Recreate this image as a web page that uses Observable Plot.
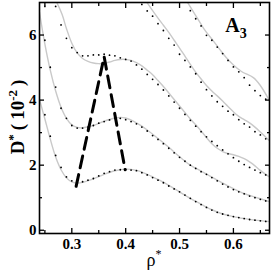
<!DOCTYPE html>
<html><head><meta charset="utf-8">
<script src="https://cdn.jsdelivr.net/npm/d3@7"></script>
<script src="https://cdn.jsdelivr.net/npm/@observablehq/plot@0.6"></script>
<style>body{margin:0;background:#fff}#chart svg{display:block}</style>
</head><body><div id="chart"></div>
<script>
// shared density grid for the dotted (simulation) series
const rhoGrid = [0.25,0.26,0.27,0.28,0.29,0.30,0.31,0.32,0.33,0.34,0.35,0.36,0.37,0.38,0.39,0.40,0.41,0.42,0.43,0.44,0.45,0.46,0.47,0.48,0.49,0.50,0.51,0.52,0.53,0.54,0.55,0.56,0.57,0.58,0.59,0.60,0.61,0.62,0.63,0.64,0.65,0.66];
const dots1 = [3.55,2.89,2.30,1.93,1.64,1.52,1.46,1.49,1.54,1.59,1.67,1.75,1.80,1.85,1.86,1.87,1.85,1.83,1.77,1.70,1.62,1.54,1.46,1.36,1.27,1.18,1.08,0.98,0.88,0.79,0.70,0.62,0.55,0.50,0.46,0.42,0.39,0.36,0.33,0.31,0.29,0.27];
const dots2 = [5.84,5.01,4.40,3.75,3.44,3.22,3.14,3.14,3.17,3.22,3.29,3.34,3.39,3.44,3.44,3.40,3.34,3.27,3.17,3.05,2.91,2.79,2.66,2.52,2.38,2.24,2.12,2.00,1.90,1.80,1.72,1.62,1.52,1.42,1.33,1.25,1.18,1.12,1.05,1.00,0.95,0.90];
const dots3 = [6.88,null,6.88,6.31,5.90,5.61,5.46,5.36,5.36,5.39,5.39,5.41,5.38,5.36,5.30,5.25,5.20,5.08,4.95,4.79,4.64,4.48,4.31,4.13,3.94,3.75,3.56,3.38,3.20,3.03,2.87,2.73,2.60,2.47,2.35,2.23,2.12,2.02,1.93,1.85,1.77,1.70];
const dots4 = [null,null,null,null,null,null,null,null,null,null,null,null,null,null,null,null,null,null,6.94,6.74,6.58,6.35,6.14,5.90,5.69,5.41,5.22,5.02,4.81,4.55,4.32,4.13,3.95,3.81,3.66,3.55,3.40,3.27,3.17,3.03,2.93,2.81];
const dots5 = [null,null,null,null,null,null,null,null,null,null,null,null,null,null,null,null,null,null,null,null,null,null,null,null,null,null,null,6.75,6.50,6.28,5.99,5.84,5.63,5.43,5.22,5.02,4.87,4.69,4.46,4.29,4.14,4.03];

// theory curves (grey solid)
const grey1Rho = [0.24,0.25,0.26,0.27,0.28,0.29,0.30,0.31,0.32,0.34,0.36,0.38,0.40,0.42,0.44,0.46,0.48,0.50,0.52,0.54,0.56,0.58,0.60,0.62,0.64,0.667];
const grey1D   = [4.02,3.42,2.80,2.25,1.86,1.61,1.49,1.45,1.47,1.58,1.72,1.83,1.88,1.84,1.72,1.56,1.38,1.18,0.98,0.80,0.63,0.50,0.42,0.36,0.31,0.27];
const grey2Rho = [0.24,0.25,0.26,0.27,0.28,0.29,0.30,0.31,0.32,0.34,0.36,0.38,0.39,0.40,0.42,0.44,0.46,0.48,0.50,0.52,0.54,0.56,0.58,0.60,0.62,0.64,0.667];
const grey2D   = [6.70,5.72,4.92,4.28,3.78,3.44,3.24,3.16,3.15,3.22,3.35,3.45,3.47,3.45,3.30,3.08,2.82,2.55,2.26,2.00,1.82,1.63,1.45,1.28,1.13,1.02,0.88];
const grey3Rho = [0.271,0.282,0.29,0.30,0.31,0.32,0.33,0.34,0.35,0.36,0.37,0.38,0.39,0.40,0.41,0.42,0.43,0.44,0.45,0.46,0.47,0.48,0.49,0.50,0.51,0.52,0.53,0.54,0.55,0.56,0.57,0.58,0.59,0.60,0.61,0.62,0.63,0.64,0.65,0.667];
const grey3D   = [7.04,6.63,6.20,5.75,5.45,5.28,5.19,5.14,5.12,5.13,5.17,5.22,5.25,5.25,5.22,5.15,5.05,4.92,4.78,4.60,4.42,4.22,4.02,3.82,3.62,3.42,3.24,3.05,2.85,2.66,2.52,2.42,2.36,2.32,2.27,2.20,2.10,1.98,1.84,1.64];
const grey4Rho = [0.438,0.45,0.46,0.47,0.48,0.49,0.50,0.51,0.52,0.53,0.54,0.55,0.56,0.57,0.58,0.59,0.60,0.61,0.62,0.63,0.64,0.65,0.667];
const grey4D   = [7.04,6.75,6.52,6.30,6.08,5.84,5.60,5.35,5.10,4.86,4.65,4.45,4.28,4.13,3.97,3.80,3.64,3.50,3.40,3.30,3.17,3.02,2.75];
const grey5Rho = [0.5135,0.53,0.545,0.5627,0.575,0.587,0.60,0.615,0.637,0.65,0.667];
const grey5D   = [7.04,6.60,6.20,5.82,5.55,5.30,5.08,4.88,4.69,4.45,3.98];

// dashed boundary
const dashRho = [0.308,0.360,0.399];
const dashD   = [1.35,5.33,1.86];

const xMajor = [0.3,0.4,0.5,0.6];
const xMinor = [0.25,0.35,0.45,0.55,0.65];
const yMajor = [0,2,4,6];
const yMinor = [1,3,5];

const dotSeries = [dots1,dots2,dots3,dots4,dots5];
const dotData = dotSeries.flatMap((arr,k)=>arr.map((d,i)=>({rho:rhoGrid[i],D:d,k})));
const greys = [[grey1Rho,grey1D],[grey2Rho,grey2D],[grey3Rho,grey3D],[grey4Rho,grey4D],[grey5Rho,grey5D]];
const greyData = greys.flatMap(([r,d],k)=>r.map((v,i)=>({rho:v,D:d[i],k})));
const dashData = dashRho.map((r,i)=>({rho:r,D:dashD[i]}));

const chart = Plot.plot({
  width: 273, height: 275,
  marginLeft: 39, marginRight: 4, marginTop: 2, marginBottom: 42,
  x: {domain: [0.24, 0.667]},
  y: {domain: [-0.1, 7]},
  style: {fontFamily: "'Liberation Serif', serif", fontWeight: "bold", fontSize: "15px", color: "#000", background: "#fff"},
  marks: [
    Plot.line(greyData, {x:"rho", y:"D", z:"k", stroke:"#c9c9c9", strokeWidth:1.4, curve:"catmull-rom", clip:true}),
    Plot.dot(dotData, {x:"rho", y:"D", r:0.9, fill:"#000", stroke:null, clip:true}),
    Plot.line(dashData, {x:"rho", y:"D", stroke:"#000", strokeWidth:3, strokeDasharray:"12,7", clip:true}),
    Plot.axisX({anchor:"bottom", ticks:xMajor, tickSize:-5, fill:"none", strokeWidth:1.3}),
    Plot.axisX({anchor:"bottom", ticks:xMinor, tickSize:-3, fill:"none", strokeWidth:1.3}),
    Plot.axisX({anchor:"top", ticks:xMajor, tickSize:-5, fill:"none", strokeWidth:1.3}),
    Plot.axisX({anchor:"top", ticks:xMinor, tickSize:-3, fill:"none", strokeWidth:1.3}),
    Plot.axisY({anchor:"left", ticks:yMajor, tickSize:-5, fill:"none", strokeWidth:1.3}),
    Plot.axisY({anchor:"left", ticks:yMinor, tickSize:-3, fill:"none", strokeWidth:1.3}),
    Plot.axisY({anchor:"right", ticks:yMajor, tickSize:-5, fill:"none", strokeWidth:1.3}),
    Plot.axisY({anchor:"right", ticks:yMinor, tickSize:-3, fill:"none", strokeWidth:1.3}),
    Plot.axisX({anchor:"bottom", ticks:xMajor, tickSize:0, tickPadding:5, tickFormat:d=>d.toFixed(1), label:null}),
    Plot.axisY({anchor:"left", ticks:yMajor, tickSize:0, tickPadding:3, tickFormat:d=>String(d), label:null}),
    Plot.frame({stroke:"#000", strokeWidth:1.6})
  ]
});
document.getElementById("chart").append(chart);

const svg = d3.select(chart);
// y-axis title
const yl = svg.append("text")
  .attr("transform","translate(24,117) rotate(-90)")
  .attr("text-anchor","middle")
  .style("font-family","'Liberation Serif', serif").style("font-weight","bold").style("font-size","19px").attr("fill","#000");
yl.append("tspan").text("D");
yl.append("tspan").attr("dy","-7").style("font-size","13px").text("*");
yl.append("tspan").attr("dy","7").attr("dx","4").text("(");
yl.append("tspan").attr("dx","4").text("10");
yl.append("tspan").attr("dy","-7").style("font-size","13px").text("-2");
yl.append("tspan").attr("dy","7").attr("dx","4").text(")");
// x-axis title
const xl = svg.append("text")
  .attr("x",154).attr("y",266).attr("text-anchor","middle")
  .style("font-family","'Liberation Serif', serif").style("font-weight","normal").style("font-size","18px").attr("fill","#000");
xl.append("tspan").text("ρ");
xl.append("tspan").attr("dy","-8").style("font-size","12px").text("*");
// panel label
const pl = svg.append("text")
  .attr("x",236).attr("y",32)
  .style("font-family","'Liberation Serif', serif").style("font-weight","bold").style("font-size","20px").attr("fill","#000");
pl.append("tspan").text("A");
pl.append("tspan").attr("dy","6").style("font-size","14px").text("3");
</script>
</body></html>
